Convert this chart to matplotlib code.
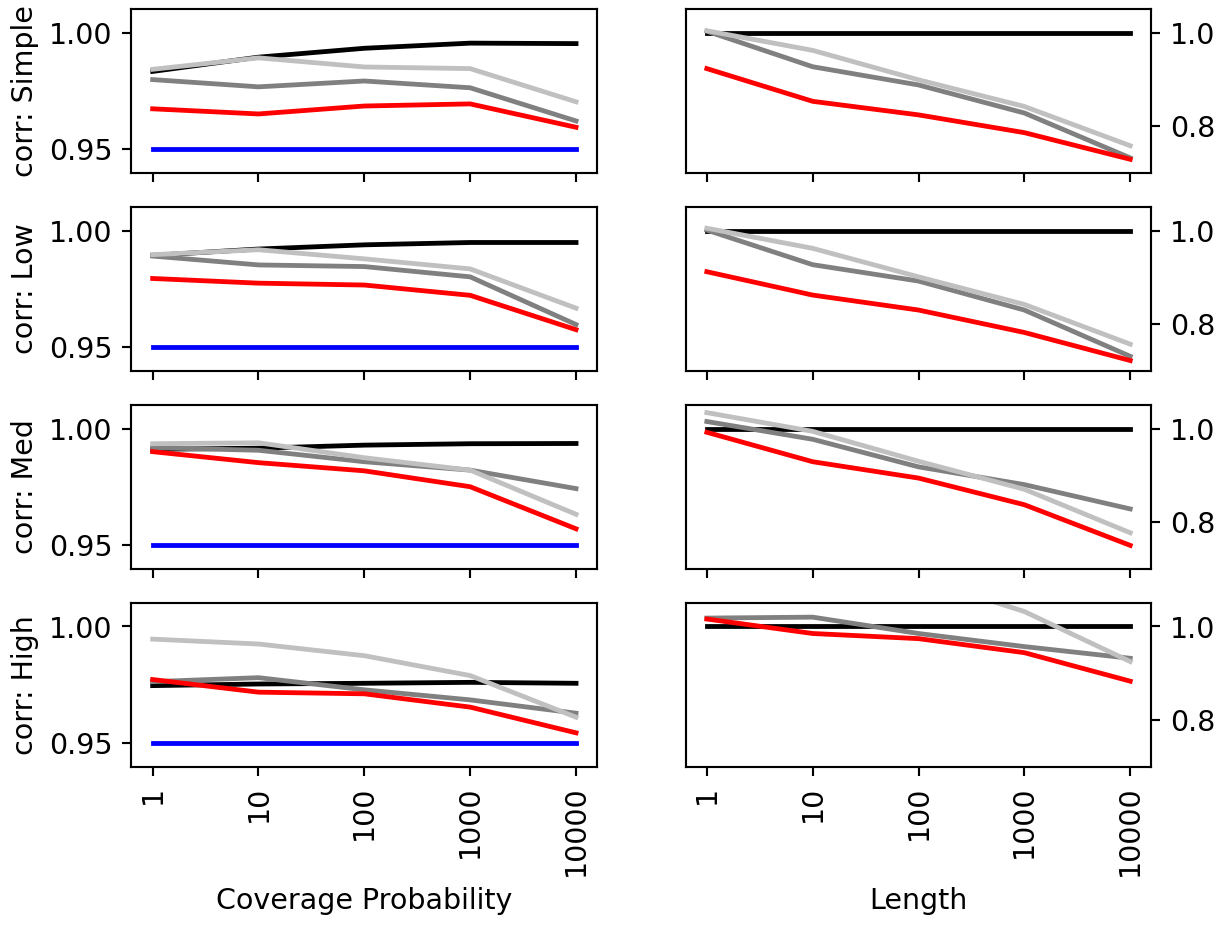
import matplotlib
matplotlib.use("Agg")
import matplotlib.pyplot as plt

sizes = ["1", "10", "100", "1000", "10000"]
rows = ["Simple", "Low", "Med", "High"]

# coverage probability, one list per row
cov_black = [
    [0.9834, 0.9895, 0.9933, 0.9955, 0.9953],
    [0.9894, 0.9921, 0.9939, 0.9949, 0.9949],
    [0.9911, 0.9916, 0.9929, 0.9935, 0.9936],
    [0.9747, 0.9754, 0.9757, 0.9761, 0.9757],
]
cov_dark = [
    [0.9799, 0.9768, 0.9793, 0.9764, 0.9622],
    [0.9891, 0.9853, 0.9846, 0.9802, 0.9598],
    [0.9918, 0.9907, 0.9858, 0.9822, 0.9743],
    [0.9764, 0.9781, 0.9729, 0.9686, 0.9629],
]
cov_light = [
    [0.9843, 0.9892, 0.9853, 0.9846, 0.9704],
    [0.9897, 0.9918, 0.9879, 0.9836, 0.9668],
    [0.9935, 0.9939, 0.9875, 0.9822, 0.9633],
    [0.9946, 0.9925, 0.9875, 0.9790, 0.9612],
]
cov_red = [
    [0.9674, 0.9652, 0.9686, 0.9695, 0.9595],
    [0.9795, 0.9775, 0.9767, 0.9723, 0.9576],
    [0.9901, 0.9854, 0.9819, 0.9751, 0.9571],
    [0.9773, 0.9719, 0.9712, 0.9655, 0.9545],
]
nominal = 0.95

# relative length, one list per row
len_black = [
    [1.0, 1.0, 1.0, 1.0, 1.0],
    [1.0, 1.0, 1.0, 1.0, 1.0],
    [1.0, 1.0, 1.0, 1.0, 1.0],
    [1.0, 1.0, 1.0, 1.0, 1.0],
]
len_dark = [
    [1.003, 0.927, 0.888, 0.828, 0.732],
    [1.001, 0.927, 0.892, 0.830, 0.731],
    [1.015, 0.977, 0.918, 0.880, 0.828],
    [1.018, 1.020, 0.985, 0.957, 0.932],
]
len_light = [
    [1.004, 0.962, 0.899, 0.842, 0.758],
    [1.005, 0.962, 0.901, 0.842, 0.757],
    [1.034, 0.994, 0.930, 0.870, 0.777],
    [1.160, 1.130, 1.104, 1.032, 0.925],
]
len_red = [
    [0.923, 0.853, 0.824, 0.786, 0.729],
    [0.912, 0.862, 0.830, 0.782, 0.722],
    [0.992, 0.929, 0.894, 0.837, 0.750],
    [1.016, 0.985, 0.974, 0.944, 0.883],
]

plt.rcParams["font.size"] = 10.7
plt.rcParams["lines.linewidth"] = 1.8

fig, axes = plt.subplots(4, 2, figsize=(6.4, 4.823), dpi=192, sharex=True)
fig.subplots_adjust(left=0.107, right=0.937, top=0.990, bottom=0.172,
                    hspace=0.21, wspace=0.19)

for i, name in enumerate(rows):
    ax = axes[i, 0]
    ax.plot(sizes, cov_black[i], color="black")
    ax.plot(sizes, cov_dark[i], color="gray")
    ax.plot(sizes, cov_light[i], color="silver")
    ax.plot(sizes, cov_red[i], color="red")
    ax.plot(sizes, [nominal] * len(sizes), color="blue")
    ax.set_ylim(0.94, 1.01)
    ax.set_yticks([0.95, 1.00])
    ax.set_yticklabels(["0.95", "1.00"])
    ax.set_ylabel("corr: " + name)

    ax = axes[i, 1]
    ax.plot(sizes, len_black[i], color="black")
    ax.plot(sizes, len_dark[i], color="gray")
    ax.plot(sizes, len_light[i], color="silver")
    ax.plot(sizes, len_red[i], color="red")
    ax.set_ylim(0.7, 1.05)
    ax.set_yticks([0.8, 1.0])
    ax.yaxis.tick_right()

for ax in axes[-1]:
    ax.tick_params(axis="x", labelrotation=90)
axes[-1, 0].set_xlabel("Coverage Probability")
axes[-1, 1].set_xlabel("Length")

plt.savefig("out.png")
